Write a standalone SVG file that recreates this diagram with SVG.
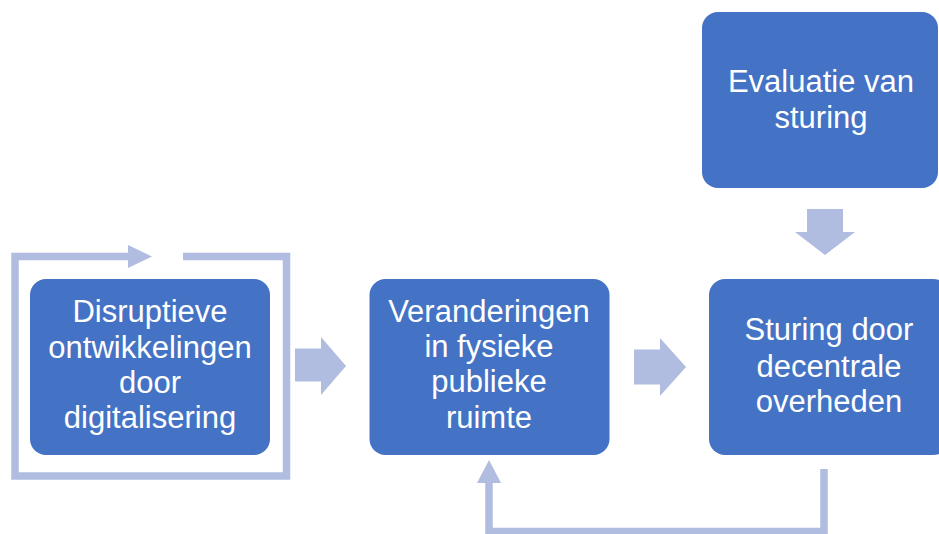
<svg xmlns="http://www.w3.org/2000/svg" width="939" height="534" viewBox="0 0 939 534">
<style>
.box{fill:#4472c4;}
.lbl{fill:#ffffff;font-family:"Liberation Sans","Open Sans",sans-serif;font-size:31px;text-anchor:middle;}
.ln{fill:none;stroke:#b0bde0;stroke-width:7.5;stroke-linejoin:miter;}
.ar{fill:#b0bde0;}
</style>
<rect width="939" height="534" fill="#ffffff"/>
<g id="connectors">
<path class="ln" d="M183,256.5 H286.5 V476 H15 V256.5 H130"/>
<polygon class="ar" points="128,245 152,256.5 128,268"/>
<polygon class="ar" points="295,348.5 321,348.5 321,337 346,366 321,395 321,381.5 295,381.5"/>
<polygon class="ar" points="634,349.5 660,349.5 660,338 686,367 660,396 660,384.5 634,384.5"/>
<polygon class="ar" points="807,209 843,209 843,232 855,232 825,255 795,232 807,232"/>
<path class="ln" d="M824,469 V531.5 H489 V481"/>
<polygon class="ar" points="477,483 489,460 501,483"/>
</g>
<g id="node-disruptieve">
<rect class="box" x="30" y="279" width="240" height="176" rx="16"/>
<text class="lbl" x="150" y="322">Disruptieve</text>
<text class="lbl" x="150" y="357.5">ontwikkelingen</text>
<text class="lbl" x="150" y="393">door</text>
<text class="lbl" x="150" y="428">digitalisering</text>
</g>
<g id="node-veranderingen">
<rect class="box" x="369.5" y="279" width="240" height="176" rx="16"/>
<text class="lbl" x="489" y="322">Veranderingen</text>
<text class="lbl" x="489" y="357">in fysieke</text>
<text class="lbl" x="489" y="392">publieke</text>
<text class="lbl" x="489" y="428">ruimte</text>
</g>
<g id="node-sturing">
<rect class="box" x="709" y="279" width="240" height="176" rx="16"/>
<text class="lbl" x="829" y="340">Sturing door</text>
<text class="lbl" x="829" y="376.5">decentrale</text>
<text class="lbl" x="829" y="412">overheden</text>
</g>
<g id="node-evaluatie">
<rect class="box" x="702" y="12" width="236" height="176" rx="16"/>
<text class="lbl" x="821" y="91.5">Evaluatie van</text>
<text class="lbl" x="821" y="127.5">sturing</text>
</g>
</svg>
